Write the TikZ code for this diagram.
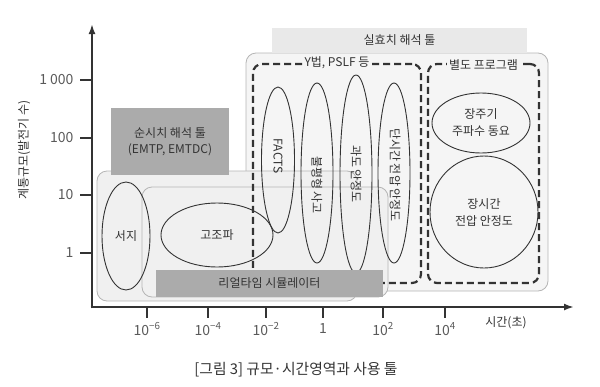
\documentclass[tikz,border=0pt]{standalone}
\usepackage{fontspec}
\setmainfont{Noto Sans CJK KR}
\usetikzlibrary{
    shapes.geometric,
    arrows.meta,
    positioning,
    calc
}
\definecolor{ink}{HTML}{333333}
\definecolor{numgray}{HTML}{5A5A5A}
\definecolor{toolgray}{HTML}{ABABAB}
\definecolor{rmsgray}{HTML}{E9E9E9}
\definecolor{panel}{HTML}{F5F5F5}
\definecolor{areafill}{HTML}{F0F0F0}
\definecolor{panelline}{HTML}{B5B5B5}
\tikzset{
    % Light rounded area style
    region/.style={
        rectangle,
        rounded corners=10pt,
        draw=panelline,
        fill=#1,
        line width=0.8pt,
        inner sep=0pt
    },
    % Tool box style
    toolbox/.style={
        rectangle,
        fill=#1,
        text=ink,
        align=center,
        inner sep=0pt,
        font=\fontsize{12}{16}\selectfont
    },
    % Dashed program group style
    dashgroup/.style={
        rectangle,
        rounded corners=9pt,
        draw=ink,
        dash pattern=on 7pt off 4pt,
        line width=2.2pt,
        inner sep=0pt
    },
    % Phenomenon ellipse style
    case/.style={
        ellipse,
        draw=ink,
        line width=0.9pt,
        inner sep=0pt,
        align=center,
        text=ink,
        font=\fontsize{12}{17}\selectfont
    },
    % Vertical text style
    vlabel/.style={
        rotate=-90,
        text=ink,
        inner sep=0pt,
        font=\fontsize{12}{14}\selectfont
    },
    % Group title style
    grouplabel/.style={
        fill=panel,
        text=ink,
        inner sep=2pt,
        font=\fontsize{12}{14}\selectfont
    },
    % Axis styles
    axis line/.style={
        -{Latex[length=10pt, width=7pt]},
        line width=2.6pt,
        color=ink
    },
    axistick/.style={
        line width=2.6pt,
        color=ink
    },
    number/.style={
        text=numgray,
        font=\fontsize{14}{16}\selectfont
    }
}

\begin{document}
\begin{tikzpicture}[x=1pt, y=-1pt]
        \useasboundingbox (0,0) rectangle (600,386);

        % Background areas
        \node[region=panel, minimum width=302pt, minimum height=238pt] (rmspanel) at (397,172) {};
        \node[region=areafill, minimum width=260pt, minimum height=130pt] (emtarea) at (227,236) {};
        \node[region=areafill, minimum width=246pt, minimum height=110pt] (rtarea) at (265,242) {};

        % Dashed program groups
        \node[dashgroup, minimum width=168pt, minimum height=219pt] (ygroup) at (337,173.5) {};
        \node[dashgroup, minimum width=111pt, minimum height=219pt] (extgroup) at (483.5,173.5) {};
        \node[grouplabel] (ylabel) at (ygroup.north) {Y법, PSLF 등};
        \node[grouplabel] (extlabel) at ([yshift=-2pt]extgroup.north) {별도 프로그램};

        % Phenomena
        \node[case, minimum width=48pt, minimum height=108pt] (surge) at (126,236) {서지};
        \node[case, minimum width=112pt, minimum height=64pt] (harmonic) at (217,235) {고조파};
        \node[case, minimum width=33pt, minimum height=146pt] (facts) at (278,160) {};
        \node[case, minimum width=32pt, minimum height=180pt] (unbal) at (317,173) {};
        \node[case, minimum width=32pt, minimum height=198pt] (transient) at (356,174) {};
        \node[case, minimum width=32pt, minimum height=180pt] (stvolt) at (394,173) {};
        \node[case, minimum width=98pt, minimum height=60pt] (lfo) at (481,123) {장주기\\주파수 동요};
        \node[case, minimum width=108pt, minimum height=112pt] (ltvolt) at (484,212) {장시간\\전압 안정도};

        \node[vlabel] (factstext) at ($(facts)+(0,-4)$) {FACTS};
        \node[vlabel] (unbaltext) at ($(unbal)+(0,12)$) {불평형 사고};
        \node[vlabel] (transtext) at (transient) {과도 안정도};
        \node[vlabel] (stvolttext) at ($(stvolt)+(1,2)$) {단시간 전압 안정도};

        % Tools
        \node[toolbox=rmsgray, minimum width=255pt, minimum height=25pt] (rmstool) at (399.5,40.5) {실효치 해석 툴};
        \node[toolbox=toolgray, minimum width=118pt, minimum height=67pt] (emttool) at (170,141.5) {순시치 해석 툴\\(EMTP, EMTDC)};
        \node[toolbox=toolgray, minimum width=227pt, minimum height=27pt] (rtsim) at (269.5,283.5) {리얼타임 시뮬레이터};

        % Axes
        \coordinate (origin) at (92,307);
        \coordinate (ytip) at (92,24);
        \coordinate (xtip) at (574,307);
        \draw[axis line] ([yshift=-1.3pt]origin) -- (ytip);
        \draw[axis line] ([xshift=-1.3pt]origin) -- (xtip);

        \foreach \lbl/\ypos [count=\i] in {{1 000}/80, 100/138, 10/195, 1/253} {
            \draw[axistick] (80,\ypos) -- (92,\ypos);
            \node[number, anchor=east] (yval\i) at (77,\ypos) {\lbl};
        }
        \foreach \lbl/\xpos [count=\i] in {10\textsuperscript{−6}/147, 10\textsuperscript{−4}/208, 10\textsuperscript{−2}/266, 1/323, 10\textsuperscript{2}/383, 10\textsuperscript{4}/445} {
            \draw[axistick] (\xpos,307) -- (\xpos,318);
            \node[number] (xval\i) at (\xpos,329) {\lbl};
        }

        % Axis titles and caption
        \node[text=ink, font=\fontsize{12}{14}\selectfont] (xtitle) at (506,323) {시간(초)};
        \node[text=ink, rotate=90, font=\fontsize{12}{14}\selectfont] (ytitle) at (24,150) {계통규모(발전기 수)};
        \node[text=ink, font=\fontsize{14.8}{17}\selectfont] (caption) at (296,370) {[그림 3] 규모·시간영역과 사용 툴};

    \end{tikzpicture}
\end{document}
